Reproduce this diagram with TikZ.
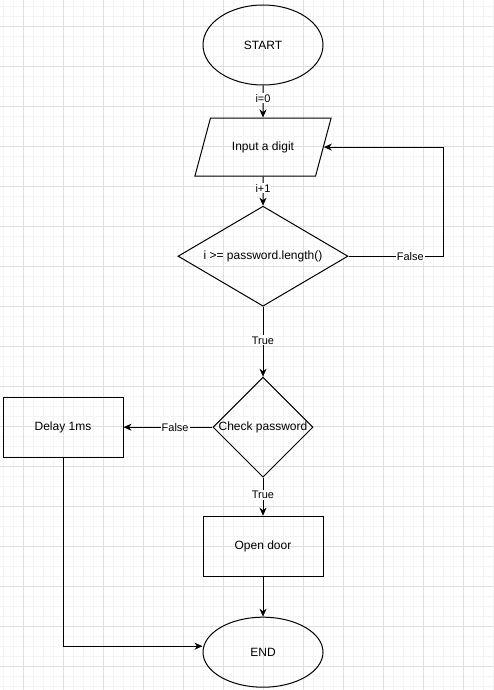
\documentclass[tikz,border=0pt]{standalone}
\usepackage{fontspec}
\setmainfont{Liberation Sans}
\usetikzlibrary{arrows.meta, positioning, shapes.geometric}

\begin{document}
\begin{tikzpicture}[x=1pt, y=1pt, node distance=30pt, line width=1pt,
  terminal/.style={draw, ellipse, minimum width=120pt, minimum height=80pt, font=\fontsize{12}{14}\selectfont},
  io/.style={draw, trapezium, trapezium left angle=75, trapezium right angle=105, inner xsep=21.5pt, inner ysep=23.5pt, font=\fontsize{12}{14}\selectfont},
  decision/.style={draw, diamond, inner sep=0pt, font=\fontsize{12}{14}\selectfont},
  process/.style={draw, rectangle, minimum width=120pt, minimum height=60pt, font=\fontsize{12}{14}\selectfont},
  lbl/.style={fill=white, inner sep=1pt, font=\fontsize{11}{13}\selectfont},
  arrow/.style={-{Stealth[length=8pt, width=7pt, inset=2.5pt]}},
  minorgrid/.style={line width=0.6pt, gray!9},
  majorgrid/.style={line width=0.8pt, gray!25}]

\useasboundingbox (0,0) rectangle (493,-690);
\fill[white] (0,0) rectangle (493,-690);
% background grid
\foreach \gx in {3,13,...,493} \draw[minorgrid] (\gx,0) -- (\gx,-690);
\foreach \gy in {6,16,...,690} \draw[minorgrid] (0,-\gy) -- (493,-\gy);
\foreach \gx in {23,63,...,493} \draw[majorgrid] (\gx,0) -- (\gx,-690);
\foreach \gy in {26,66,...,690} \draw[majorgrid] (0,-\gy) -- (493,-\gy);

\node[terminal] (start) at (263,-45) {START};
\node[io, below=32pt of start] (input) {Input a digit};
\node[decision, shape aspect=1.7, minimum width=170pt, minimum height=100pt, below=29pt of input] (cond) {i >= password.length()};
\node[decision, minimum width=100pt, minimum height=100pt, below=70pt of cond] (check) {Check password};
\node[process, left=89pt of check] (delay) {Delay 1ms};
\node[process, below=38pt of check] (open) {Open door};
\node[terminal, minimum height=70pt, below=40pt of open] (end) {END};
\coordinate (loop) at ([xshift=95pt]cond.east);

\draw[arrow] (start) -- node[lbl, pos=0.4]{i=0} (input);
\draw[arrow] (input) -- node[lbl, pos=0.4]{i+1} (cond);
\draw[arrow] (cond.east) -- node[lbl, pos=0.65]{False} (loop) |- (input.east);
\draw[arrow] (cond) -- node[lbl, pos=0.48]{True} (check);
\draw[arrow] (check) -- node[lbl, pos=0.42]{False} (delay);
\draw[arrow] (check) -- node[lbl, pos=0.45]{True} (open);
\draw[arrow] (open) -- (end);
\draw[arrow] (delay) |- ([yshift=6pt]end.west);

\end{tikzpicture}
\end{document}
